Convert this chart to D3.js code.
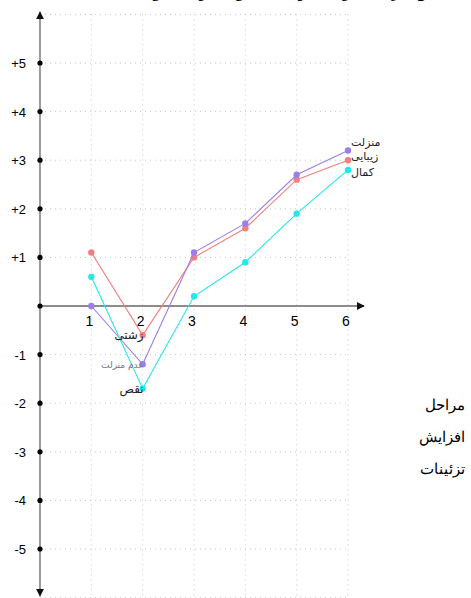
<!DOCTYPE html>
<html>
<head>
<meta charset="utf-8">
<script src="https://cdn.jsdelivr.net/npm/d3@7"></script>
<style>
body { margin: 0; background: #fff; }
</style>
</head>
<body>
<div id="chart"></div>
<script>
var width = 471,
    height = 598;

// stages 1..6
var stages = [1, 2, 3, 4, 5, 6];
var yTicks = [-5, -4, -3, -2, -1, 1, 2, 3, 4, 5];

var zibayi = [1.1, -0.6, 1.0, 1.6, 2.6, 3.0];   // red
var manzelat = [0, -1.2, 1.1, 1.7, 2.7, 3.2];   // purple
var kamal = [0.6, -1.7, 0.2, 0.9, 1.9, 2.8];    // cyan

var series = [
  { name: 'زیبایی', low: 'زشتی', values: zibayi, color: '#f47f7f' },
  { name: 'منزلت', low: 'عدم منزلت', values: manzelat, color: '#9b7ee8' },
  { name: 'کمال', low: 'نقص', values: kamal, color: '#22e8ea' }
];

var sideLabels = ['مراحل', 'افزایش', 'تزئینات'];

var x = d3.scaleLinear().domain([0, 6]).range([40, 348]);
var y = d3.scaleLinear().domain([-6, 6]).range([597.6, 14.4]);

var svg = d3.select('#chart').append('svg')
  .attr('width', width)
  .attr('height', height);

// title, mostly cut off at the top like the original
svg.append('text')
  .attr('x', 275).attr('y', -4)
  .attr('text-anchor', 'middle')
  .attr('font-family', 'DejaVu Sans, sans-serif')
  .attr('font-size', 22)
  .text('نمودار تغییرات زیبایی و منزلت و کمال');

// grid
var grid = svg.append('g')
  .attr('stroke', '#c8c8c8')
  .attr('stroke-width', 1)
  .attr('stroke-dasharray', '1,4');
d3.range(-6, 7).forEach(function(v) {
  if (v == 0) return;
  grid.append('line')
    .attr('x1', x(0)).attr('x2', x(6))
    .attr('y1', y(v)).attr('y2', y(v));
});
stages.forEach(function(s) {
  grid.append('line')
    .attr('x1', x(s)).attr('x2', x(s))
    .attr('y1', y(6)).attr('y2', height);
});

// axes
var defs = svg.append('defs');
defs.append('marker')
  .attr('id', 'arrow')
  .attr('viewBox', '0 0 10 10')
  .attr('refX', 9).attr('refY', 5)
  .attr('markerWidth', 8).attr('markerHeight', 8)
  .attr('markerUnits', 'userSpaceOnUse')
  .attr('orient', 'auto-start-reverse')
  .append('path')
  .attr('d', 'M0,0L10,5L0,10z')
  .attr('fill', '#111');

svg.append('line')
  .attr('x1', x(0)).attr('x2', x(0))
  .attr('y1', 596).attr('y2', 12)
  .attr('stroke', '#666').attr('stroke-width', 1.3)
  .attr('marker-start', 'url(#arrow)')
  .attr('marker-end', 'url(#arrow)');

svg.append('line')
  .attr('x1', x(0)).attr('x2', 364)
  .attr('y1', y(0)).attr('y2', y(0))
  .attr('stroke', '#666').attr('stroke-width', 1.3)
  .attr('marker-end', 'url(#arrow)');

// y ticks
var yAxis = svg.append('g');
yTicks.concat([0]).forEach(function(v) {
  yAxis.append('circle')
    .attr('cx', x(0)).attr('cy', y(v)).attr('r', 2.6)
    .attr('fill', '#000');
});
yTicks.forEach(function(v) {
  yAxis.append('text')
    .attr('x', 26).attr('y', y(v) + 5)
    .attr('text-anchor', 'end')
    .attr('font-family', 'Liberation Sans, Arial, sans-serif')
    .attr('font-size', 13)
    .text(v > 0 ? '+' + v : String(v));
});

// x tick labels
stages.forEach(function(s) {
  svg.append('text')
    .attr('x', x(s) - 2).attr('y', y(0) + 20)
    .attr('text-anchor', 'middle')
    .attr('font-family', 'Liberation Sans, Arial, sans-serif')
    .attr('font-size', 14)
    .text(s);
});

// lines and points
var line = d3.line()
  .x(function(d, i) { return x(stages[i]); })
  .y(function(d) { return y(d); });

series.forEach(function(s) {
  svg.append('path')
    .attr('d', line(s.values))
    .attr('fill', 'none')
    .attr('stroke', s.color)
    .attr('stroke-width', 1.1);
  s.values.forEach(function(v, i) {
    svg.append('circle')
      .attr('cx', x(stages[i])).attr('cy', y(v)).attr('r', 3.2)
      .attr('fill', s.color);
  });
});

// labels at stage 6 (high) and stage 2 (low)
var font = 'DejaVu Sans, sans-serif';
var highDy = [0, -4, 6];   // fine offsets so the labels stack
series.forEach(function(s, k) {
  svg.append('text')
    .attr('x', x(6) + 3).attr('y', y(s.values[5]) + highDy[k])
    .attr('font-family', font)
    .attr('font-size', 11)
    .attr('fill', '#222')
    .text(s.name);
  svg.append('text')
    .attr('x', x(2) + 1).attr('y', y(s.values[1]) + 4)
    .attr('text-anchor', 'end')
    .attr('font-family', font)
    .attr('font-size', k == 1 ? 9 : 12)
    .attr('fill', k == 1 ? '#777' : '#222')
    .text(s.low);
});

// side text
sideLabels.forEach(function(t, i) {
  svg.append('text')
    .attr('x', 465).attr('y', 410 + i * 32)
    .attr('text-anchor', 'end')
    .attr('font-family', 'DejaVu Serif, serif')
    .attr('font-size', 15)
    .text(t);
});
</script>
</body>
</html>
